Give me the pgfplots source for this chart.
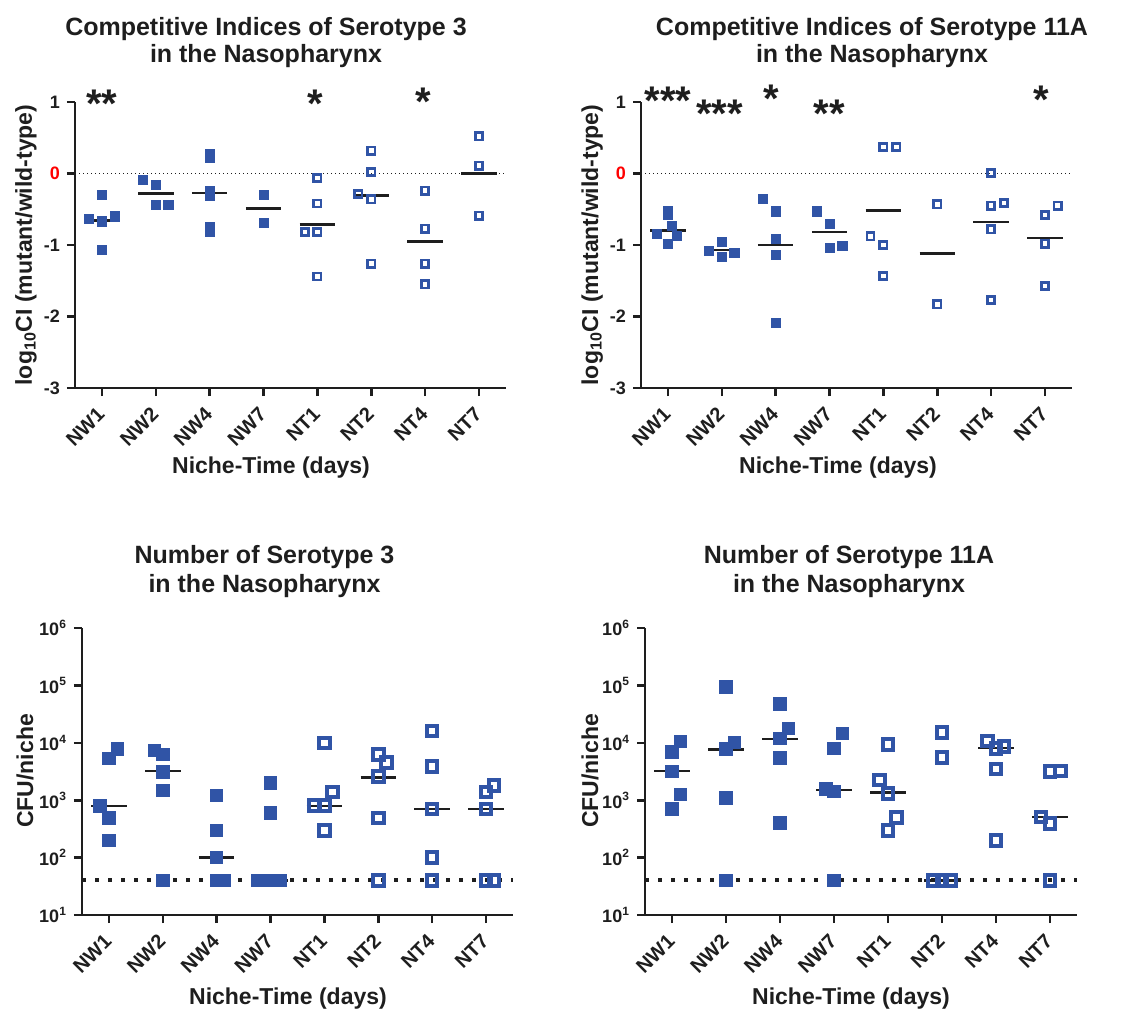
\documentclass[border=0pt]{standalone}
\usepackage{fontspec}
\setmainfont{Liberation Sans}
\usepackage{pgfplots}
\pgfplotsset{compat=1.18}

\definecolor{pblue}{RGB}{48,84,166}
\definecolor{ink}{RGB}{30,30,30}

\tikzset{
  titletxt/.style={font=\fontsize{12.5}{14}\selectfont\bfseries, text=ink, anchor=base},
  labeltxt/.style={font=\fontsize{11.5}{13}\selectfont\bfseries, text=ink, anchor=base},
  startxt/.style={font=\fontsize{20}{20}\selectfont\bfseries, text=ink, anchor=base},
}

\pgfplotsset{
  prism/.style={
    scale only axis, anchor=south west, clip=false,
    axis x line*=bottom, axis y line*=left,
    axis line style={line width=1.3pt, ink},
    tick style={line width=1.3pt, ink},
    tick align=outside, major tick length=4pt,
    xminorticks=false, yminorticks=false,
    xmin=-0.5, xmax=7.5, xtick={0,...,7},
    xticklabels={NW1,NW2,NW4,NW7,NT1,NT2,NT4,NT7},
    x tick label style={xshift=2pt, yshift=-5pt, rotate=45, anchor=east,
      font=\fontsize{10}{11}\selectfont\bfseries, text=ink},
    y tick label style={font=\fontsize{9}{10}\selectfont\bfseries, text=ink},
  },
  ci/.style={prism, ymin=-3, ymax=1, ytick={-3,...,1},
    yticklabels={-3,-2,-1,\textcolor{red}{0},1}},
  cfu/.style={prism, ymin=10, ymax=1000000,
    ytick={10,100,1000,10000,100000,1000000},
    yticklabels={10\textsuperscript{1},10\textsuperscript{2},10\textsuperscript{3},10\textsuperscript{4},10\textsuperscript{5},10\textsuperscript{6}}},
  filledS/.style={only marks, mark=square*, mark size=2.3pt, color=pblue},
  openS/.style={only marks, mark=square, mark size=1.8pt, mark options={line width=1.35pt}, color=pblue},
  filledL/.style={only marks, mark=square*, mark size=3.1pt, color=pblue},
  openL/.style={only marks, mark=square, mark size=2.65pt, mark options={line width=2pt}, color=pblue},
  median/.style={ink, line width=1.25pt, no marks, unbounded coords=jump},
  zeroline/.style={ink, line width=0.5pt, dash pattern=on 0.5pt off 1.5pt, no marks},
  limitline/.style={ink, line width=2pt, dash pattern=on 2pt off 4.5pt, no marks},
}

\begin{document}
\begin{tikzpicture}
\useasboundingbox (0,0) rectangle (567.5pt,-504.5pt);

% ---------- Competitive indices, serotype 3 ----------
\begin{axis}[ci, at={(37.5pt,-194pt)}, width=215.5pt, height=143pt]
\addplot[zeroline] coordinates {(-0.5,0) (7.5,0)};
\addplot[filledS] coordinates {
 (0,-0.30) (-0.235,-0.64) (0,-0.67) (0.24,-0.60) (0,-1.07)
 (0.76,-0.09) (1,-0.16) (1,-0.44) (1.235,-0.44)
 (2,0.27) (2,0.22) (2,-0.25) (2,-0.31) (2,-0.75) (2,-0.81)
 (3,-0.30) (3,-0.69)};
\addplot[openS] coordinates {
 (4,-0.06) (4,-0.42) (3.765,-0.82) (4,-0.82) (4,-1.44)
 (5,0.32) (5,0.02) (4.76,-0.29) (5,-0.36) (5,-1.26)
 (6,-0.24) (6,-0.77) (6,-1.26) (6,-1.55)
 (7,0.52) (7,0.11) (7,-0.59)};
\addplot[median] coordinates {
 (-0.33,-0.66) (0.33,-0.66) (0,nan)
 (0.67,-0.28) (1.33,-0.28) (1,nan)
 (1.67,-0.27) (2.33,-0.27) (2,nan)
 (2.67,-0.49) (3.33,-0.49) (3,nan)
 (3.67,-0.71) (4.33,-0.71) (4,nan)
 (4.67,-0.31) (5.33,-0.31) (5,nan)
 (5.67,-0.95) (6.33,-0.95) (6,nan)
 (6.67,0.00) (7.33,0.00)};
\node[startxt] at (axis cs:0,0.78) {**};
\node[startxt] at (axis cs:3.96,0.79) {*};
\node[startxt] at (axis cs:5.96,0.81) {*};
\end{axis}

% ---------- Competitive indices, serotype 11A ----------
\begin{axis}[ci, at={(320.5pt,-194pt)}, width=215.5pt, height=143pt]
\addplot[zeroline] coordinates {(-0.5,0) (7.5,0)};
\addplot[filledS] coordinates {
 (0,-0.52) (0,-0.58) (0.08,-0.73) (-0.2,-0.85) (0.17,-0.87) (0,-0.98)
 (1,-0.96) (0.76,-1.08) (1.235,-1.11) (1,-1.17)
 (1.76,-0.35) (2,-0.53) (2,-0.92) (2,-1.14) (2,-2.09)
 (2.76,-0.53) (3,-0.70) (3,-1.04) (3.24,-1.01)};
\addplot[openS] coordinates {
 (4,0.37) (4.24,0.37) (3.76,-0.88) (4,-1.00) (4,-1.43)
 (5,-0.43) (5,-1.83)
 (6,0.01) (6,-0.45) (6.24,-0.41) (6,-0.78) (6,-1.77)
 (7.235,-0.45) (7,-0.58) (7,-0.98) (7,-1.57)};
\addplot[median] coordinates {
 (-0.33,-0.80) (0.33,-0.80) (0,nan)
 (0.67,-1.07) (1.33,-1.07) (1,nan)
 (1.67,-1.00) (2.33,-1.00) (2,nan)
 (2.67,-0.82) (3.33,-0.82) (3,nan)
 (3.67,-0.52) (4.33,-0.52) (4,nan)
 (4.67,-1.12) (5.33,-1.12) (5,nan)
 (5.67,-0.68) (6.33,-0.68) (6,nan)
 (6.67,-0.90) (7.33,-0.90)};
\node[startxt] at (axis cs:0,0.83) {***};
\node[startxt] at (axis cs:0.96,0.64) {***};
\node[startxt] at (axis cs:1.92,0.85) {*};
\node[startxt] at (axis cs:3,0.64) {**};
\node[startxt] at (axis cs:6.93,0.84) {*};
\end{axis}

% ---------- Counts, serotype 3 ----------
\begin{semilogyaxis}[cfu, at={(41pt,-457.5pt)}, width=215.5pt, height=143.5pt]
\addplot[limitline] coordinates {(-0.5,40) (7.5,40)};
\addplot[filledL] coordinates {
 (0.155,7800) (0,5400) (-0.17,800) (0,490) (0,200)
 (0.845,7400) (1,6300) (1,3100) (1,1500) (1,40)
 (2,1200) (2,300) (2,100) (2,40) (2.14,40)
 (3,2000) (3,600) (2.765,40) (3,40) (3.17,40)};
\addplot[openL] coordinates {
 (4,10000) (4.155,1400) (3.815,800) (4,800) (4,300)
 (5,6300) (5.155,4500) (5,2600) (5,490) (5,40)
 (6,16000) (6,3900) (6,700) (6,100) (6,40)
 (7.15,1800) (7,1400) (7,700) (7,40) (7.15,40)};
\addplot[median] coordinates {
 (-0.33,800) (0.33,800) (0,nan)
 (0.67,3200) (1.33,3200) (1,nan)
 (1.67,100) (2.33,100) (2,nan)
 (2.67,40) (3.33,40) (3,nan)
 (3.67,800) (4.33,800) (4,nan)
 (4.67,2500) (5.33,2500) (5,nan)
 (5.67,700) (6.33,700) (6,nan)
 (6.67,700) (7.33,700)};
\end{semilogyaxis}

% ---------- Counts, serotype 11A ----------
\begin{semilogyaxis}[cfu, at={(322.5pt,-457.5pt)}, width=216pt, height=143.5pt]
\addplot[limitline] coordinates {(-0.5,40) (7.5,40)};
\addplot[filledL] coordinates {
 (0.15,10700) (0,6900) (0,3200) (0.15,1260) (0,710)
 (1,95000) (1.15,10200) (1,7800) (1,1100) (1,40)
 (2,48000) (2.155,17800) (2,12000) (2,5500) (2,400)
 (3.155,14500) (3,8000) (2.85,1580) (3,1410) (3,40)};
\addplot[openL] coordinates {
 (4,9300) (3.845,2240) (4,1320) (4.155,500) (4,300)
 (5,15000) (5,5500) (4.845,40) (5,40) (5.155,40)
 (5.84,10700) (6.15,8700) (6,8000) (6,3500) (6,200)
 (7,3200) (7.19,3250) (6.83,510) (7,390) (7,40)};
\addplot[median] coordinates {
 (-0.33,3200) (0.33,3200) (0,nan)
 (0.67,7600) (1.33,7600) (1,nan)
 (1.67,11700) (2.33,11700) (2,nan)
 (2.67,1500) (3.33,1500) (3,nan)
 (3.67,1350) (4.33,1350) (4,nan)
 (4.67,40) (5.33,40) (5,nan)
 (5.67,8100) (6.33,8100) (6,nan)
 (6.67,510) (7.33,510)};
\end{semilogyaxis}

% ---------- titles and axis labels ----------
\node[titletxt] at (133pt,-17.5pt) {Competitive Indices of Serotype 3};
\node[titletxt] at (133pt,-31pt) {in the Nasopharynx};
\node[titletxt] at (436pt,-17.5pt) {Competitive Indices of Serotype 11A};
\node[titletxt] at (436pt,-31pt) {in the Nasopharynx};
\node[titletxt] at (132.25pt,-281.5pt) {Number of Serotype 3};
\node[titletxt] at (132.25pt,-296pt) {in the Nasopharynx};
\node[titletxt] at (424.5pt,-281.5pt) {Number of Serotype 11A};
\node[titletxt] at (424.5pt,-296pt) {in the Nasopharynx};

\node[labeltxt] at (135.5pt,-236.5pt) {Niche-Time (days)};
\node[labeltxt] at (419pt,-236.5pt) {Niche-Time (days)};
\node[labeltxt] at (144pt,-502pt) {Niche-Time (days)};
\node[labeltxt] at (425.5pt,-502pt) {Niche-Time (days)};

\node[labeltxt, rotate=90] at (16pt,-122.5pt) {log\textsubscript{10}CI (mutant/wild-type)};
\node[labeltxt, rotate=90] at (299pt,-122.5pt) {log\textsubscript{10}CI (mutant/wild-type)};
\node[labeltxt, rotate=90] at (16.5pt,-385.5pt) {CFU/niche};
\node[labeltxt, rotate=90] at (299pt,-385.5pt) {CFU/niche};
\end{tikzpicture}
\end{document}
